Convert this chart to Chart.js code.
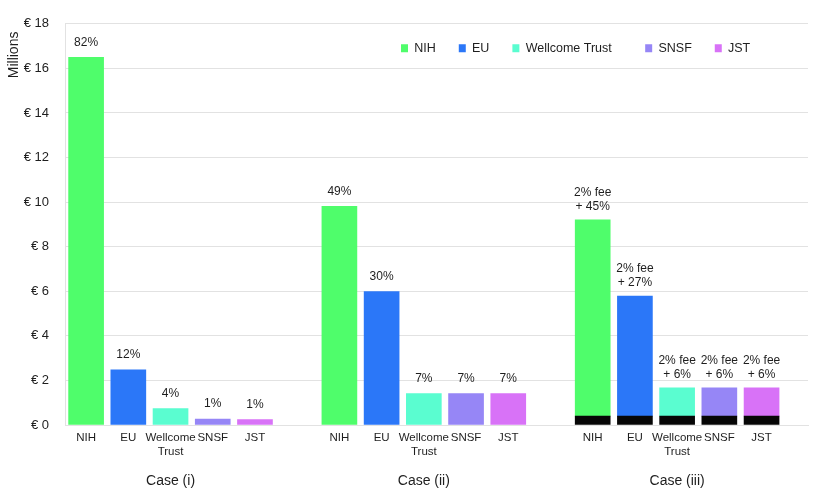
<!DOCTYPE html>
<html><head><meta charset="utf-8">
<script src="https://cdn.jsdelivr.net/npm/chart.js@4/dist/chart.umd.min.js"></script>
<style>html,body{margin:0;padding:0;background:#fff}</style>
</head><body>
<canvas id="c" width="819" height="497"></canvas>
<script>
// ---- data ----
const funders = ['NIH', 'EU', 'Wellcome Trust', 'SNSF', 'JST'];
const cases = ['Case (i)', 'Case (ii)', 'Case (iii)'];
const caseI = [16.5, 2.48, 0.74, 0.27, 0.24];
const caseII = [9.81, 5.99, 1.41, 1.41, 1.41];
const caseIIIFunder = [8.81, 5.38, 1.27, 1.27, 1.27];
const caseIIIFee = [0.4, 0.4, 0.4, 0.4, 0.4];
const labelsI = ['82%', '12%', '4%', '1%', '1%'];
const labelsII = ['49%', '30%', '7%', '7%', '7%'];
const labelsIIIFee = ['2% fee', '2% fee', '2% fee', '2% fee', '2% fee'];
const labelsIII = ['+ 45%', '+ 27%', '+ 6%', '+ 6%', '+ 6%'];
const yMax = 18, yStep = 2;

// ---- styles ----
const colors = ['#4FFD6B', '#2B77F8', '#5AFDD0', '#9686F6', '#D872F7'];
const feeColor = '#060606';
const FONT = "'Liberation Sans', Arial, Helvetica, sans-serif";
const TXT = '#1e1e1e';
const GRID = '#e2e2e2';

const slot = (c, j) => c * 6 + j;
const tickPositions = [];
cases.forEach((_, c) => funders.forEach((_, j) => tickPositions.push(slot(c, j))));

const datasets = [{
  label: 'fee',
  data: caseIIIFee.map((v, j) => ({x: slot(2, j), y: v})),
  backgroundColor: feeColor,
  barThickness: 35
}];
funders.forEach((f, j) => {
  datasets.push({
    label: f,
    data: [
      {x: slot(0, j), y: caseI[j]},
      {x: slot(1, j), y: caseII[j]},
      {x: slot(2, j), y: caseIIIFunder[j]}
    ],
    backgroundColor: colors[j],
    barThickness: 35,
    valueText: [labelsI[j], labelsII[j], [labelsIIIFee[j], labelsIII[j]]]
  });
});

const valueLabels = {
  id: 'valueLabels',
  afterDatasetsDraw(chart) {
    const ctx = chart.ctx;
    ctx.save();
    ctx.font = '12px ' + FONT;
    ctx.fillStyle = TXT;
    ctx.textAlign = 'center';
    ctx.textBaseline = 'middle';
    chart.data.datasets.forEach((ds, i) => {
      if (!ds.valueText) return;
      chart.getDatasetMeta(i).data.forEach((el, k) => {
        const t = ds.valueText[k];
        if (Array.isArray(t)) {
          ctx.fillText(t[0], el.x, el.y - 27);
          ctx.fillText(t[1], el.x, el.y - 13);
        } else {
          ctx.fillText(t, el.x, el.y - 15);
        }
      });
    });
    ctx.restore();
  }
};

const legendPlace = {
  id: 'legendPlace',
  beforeUpdate(chart) {
    if (chart.legend) chart.legend.isHorizontal = () => true;
  },
  afterLayout(chart) {
    if (chart.legend) {
      chart.legend.left = 378;
      chart.legend.right = 819;
      chart.legend.top = 19;
    }
  }
};

new Chart(document.getElementById('c'), {
  type: 'bar',
  data: {datasets},
  plugins: [valueLabels, legendPlace],
  options: {
    responsive: false,
    animation: false,
    events: [],
    devicePixelRatio: 1,
    layout: {padding: {top: 20, right: 11, left: 0, bottom: 0}},
    plugins: {
      tooltip: {enabled: false},
      legend: {
        position: 'chartArea',
        align: 'start',
        labels: {
          boxWidth: 7, boxHeight: 8, padding: 23,
          font: {size: 12.5, family: FONT}, color: TXT,
          generateLabels: (chart) => Chart.defaults.plugins.legend.labels.generateLabels(chart)
            .filter(l => l.text !== 'fee')
            .map(l => { l.lineWidth = 0; if (l.text === 'Wellcome Trust') l.text += '   '; return l; })
        }
      }
    },
    scales: {
      x: {
        type: 'linear', min: -0.5, max: 17.1, stacked: true, offset: false, weight: 0,
        grid: {display: false, offset: false, drawTicks: false},
        border: {display: true, color: GRID},
        afterBuildTicks: s => { s.ticks = tickPositions.map(v => ({value: v})); },
        ticks: {
          autoSkip: false, maxRotation: 0, minRotation: 0, padding: 6,
          font: {size: 11.5, family: FONT, lineHeight: 1.2}, color: TXT,
          callback: v => { const f = funders[Math.round(v) % 6]; return f === 'Wellcome Trust' ? ['Wellcome', 'Trust'] : f; }
        },
        afterFit: s => { s.height = 38; }
      },
      x2: {
        type: 'linear', position: 'bottom', min: -0.5, max: 17.1, offset: false, weight: 1,
        grid: {display: false, drawTicks: false}, border: {display: false},
        afterBuildTicks: s => { s.ticks = cases.map((_, c) => ({value: slot(c, 2)})); },
        ticks: {
          autoSkip: false, maxRotation: 0, minRotation: 0, padding: 10,
          font: {size: 14, family: FONT}, color: TXT,
          callback: v => cases[Math.round((v - 2) / 6)]
        },
        afterFit: s => { s.height = 34; }
      },
      y: {
        min: 0, max: yMax, stacked: true,
        grid: {color: GRID, drawTicks: false},
        border: {display: true, color: GRID},
        ticks: {stepSize: yStep, padding: 16, font: {size: 13, family: FONT}, color: TXT, callback: v => '€ ' + v},
        title: {display: true, text: 'Millions  ', align: 'end', font: {size: 14, family: FONT}, color: TXT, padding: {top: 6, bottom: 0}},
        afterFit: s => { s.width = 65; }
      }
    }
  }
});
</script>
</body></html>
